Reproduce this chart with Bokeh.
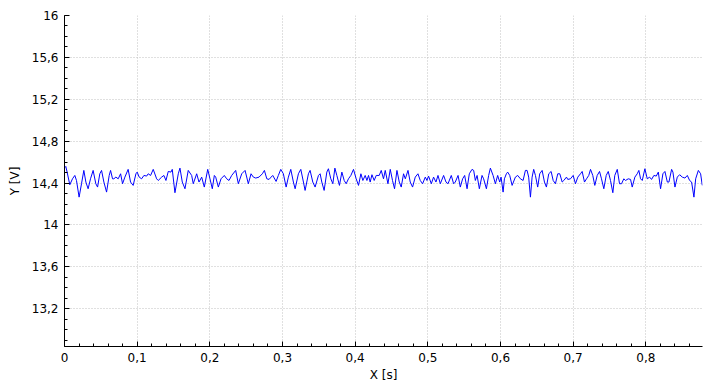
from bokeh.plotting import figure
from bokeh.models import FixedTicker, CustomJSTickFormatter, Range1d
from bokeh.embed import file_html
from bokeh.resources import INLINE

# time samples (ms) and voltage values (V)
t_ms = [0.0, 1.8, 3.6, 7.3, 11.0, 14.2, 16.5, 20.1, 23.4, 26.6, 29.4, 32.5, 35.8, 39.4, 43.1, 45.5,
        48.6, 51.0, 54.2, 57.9, 61.5, 63.4, 66.1, 67.9, 70.7, 73.9, 77.2, 79.9, 83.1, 87.6, 90.9,
        94.5, 98.3, 100.0, 102.8, 106.1, 109.3, 113.0, 115.2, 118.5, 122.1, 126.8, 129.0, 133.7,
        136.8, 139.6, 142.8,
        146.5, 148.3, 152.0, 156.6, 158.9, 162.1, 165.8, 170.3, 175.0, 177.2, 181.9, 185.1, 188.8,
        192.4, 197.1, 200.2, 203.4, 206.2, 208.1, 211.7, 215.4, 219.9, 223.2, 226.4, 230.1, 235.6,
        239.2, 243.9, 248.5, 253.0, 256.7, 259.9, 263.2, 267.7, 272.3, 275.1, 278.4, 281.5, 284.3,
        286.6, 291.2, 294.3, 297.6, 301.2, 305.0, 308.1, 311.4, 315.0, 317.4, 321.9, 325.2, 328.8,
        331.1, 335.7, 338.0, 341.7, 344.9, 349.5, 351.8, 354.1, 357.3, 361.0, 363.2, 366.5, 369.3,
        372.1, 374.8, 378.4, 381.7, 384.9, 387.6, 390.8, 394.1, 397.7, 401.4, 404.6, 407.9, 410.6,
        413.8, 416.2, 418.4, 420.7, 423.1, 426.2, 429.0,
        433.1, 435.9, 439.0, 441.4, 445.1, 448.3, 451.4, 454.2, 457.5, 460.7, 463.4, 466.6, 469.0,
        472.7, 475.8, 479.0, 482.7, 486.4, 489.6, 492.8, 496.5, 498.8, 501.0, 504.8, 507.9, 511.2,
        514.0, 517.2, 521.7, 525.0, 527.8, 532.3, 535.5, 537.8, 541.6, 544.7, 547.9, 550.7, 554.0,
        557.1, 560.8, 563.1, 565.4, 567.8, 570.9, 574.6,
        576.8, 580.6, 583.7, 586.1, 589.8, 593.0, 596.1, 598.9, 600.8, 603.6, 605.4, 608.1, 609.9,
        612.7, 616.0, 620.5, 623.7, 627.4, 631.1, 634.3, 636.6, 638.8, 641.2, 643.5, 645.7, 648.1,
        651.2, 654.0, 657.3, 660.5, 663.2, 666.4, 669.7, 672.5, 675.6, 678.8, 681.6, 684.9, 687.1,
        690.8, 692.6, 696.3, 700.0, 703.2, 706.4, 710.1, 712.4, 715.6, 718.4,
        721.5, 723.9, 727.0, 729.8, 733.1, 736.3, 739.0, 742.2, 745.5, 748.3, 751.4, 754.6, 757.3,
        760.7, 763.8, 766.6, 769.7, 772.1, 775.8, 779.0, 781.3, 784.9, 788.2, 790.4, 792.8, 795.1,
        798.7, 802.0, 805.2, 807.9, 811.1, 814.4, 817.2, 820.3, 823.5, 826.3, 829.6, 831.8, 835.5,
        837.3, 840.1, 843.3, 846.5, 850.2, 853.8, 857.1, 860.3, 863.0, 866.2, 868.6, 872.3, 875.4,
        877.7]
volts = [14.545, 14.559, 14.505, 14.384, 14.441, 14.473, 14.425, 14.266, 14.394, 14.521, 14.41,
         14.346, 14.441, 14.521, 14.394, 14.362, 14.489, 14.521, 14.41, 14.314, 14.473, 14.521,
         14.441, 14.441, 14.457, 14.441, 14.489, 14.394, 14.457, 14.531, 14.41, 14.378, 14.489,
         14.505, 14.457, 14.441, 14.473, 14.467, 14.489, 14.473, 14.531, 14.441, 14.425, 14.457,
         14.473, 14.425, 14.511,
         14.505, 14.531, 14.308, 14.489, 14.543, 14.41, 14.346, 14.521, 14.473, 14.394, 14.489,
         14.41, 14.457, 14.362, 14.531, 14.441, 14.346, 14.473, 14.457, 14.362, 14.441, 14.473,
         14.441, 14.425, 14.473, 14.521, 14.394, 14.489, 14.521, 14.394, 14.489, 14.457, 14.448,
         14.457, 14.489, 14.521, 14.441, 14.435, 14.457,
         14.473, 14.416, 14.473, 14.531, 14.489, 14.362, 14.457, 14.531, 14.41, 14.346, 14.489,
         14.531, 14.41, 14.33, 14.489, 14.521, 14.41, 14.362, 14.473, 14.489, 14.41, 14.33, 14.505,
         14.537, 14.441, 14.394, 14.543, 14.473, 14.378, 14.505, 14.425, 14.394, 14.441, 14.473,
         14.531, 14.441, 14.378, 14.489, 14.425, 14.473, 14.425, 14.473, 14.41, 14.48, 14.425,
         14.473,
         14.473, 14.521, 14.441, 14.521, 14.394, 14.531, 14.425, 14.346, 14.521, 14.41, 14.362,
         14.489, 14.441, 14.521, 14.41, 14.362, 14.457, 14.489, 14.425, 14.394, 14.457, 14.425,
         14.467, 14.394, 14.457, 14.41, 14.473, 14.394, 14.473, 14.41, 14.394, 14.473, 14.394,
         14.41, 14.473, 14.362, 14.441, 14.473, 14.346, 14.489, 14.531, 14.521, 14.425, 14.473,
         14.346, 14.473,
         14.441, 14.346, 14.473, 14.543, 14.473, 14.394, 14.473, 14.41, 14.457, 14.314, 14.441,
         14.489, 14.505, 14.473, 14.378, 14.457, 14.473, 14.441, 14.425, 14.521, 14.521, 14.457,
         14.266, 14.457, 14.531, 14.473, 14.362, 14.489, 14.521, 14.41, 14.362, 14.489, 14.511,
         14.425, 14.394, 14.489, 14.489, 14.41, 14.425, 14.457, 14.435, 14.441, 14.473, 14.394,
         14.457, 14.489, 14.511, 14.41, 14.441,
         14.473, 14.531, 14.473, 14.378, 14.473, 14.511, 14.441, 14.346, 14.473, 14.511, 14.425,
         14.308, 14.473, 14.531, 14.394, 14.394, 14.441, 14.425, 14.441, 14.435, 14.362, 14.457,
         14.489, 14.521, 14.441, 14.425, 14.537, 14.441, 14.457, 14.435, 14.473, 14.467, 14.505,
         14.346, 14.489, 14.511, 14.41, 14.41, 14.531, 14.505, 14.362, 14.457, 14.48, 14.457,
         14.448, 14.473, 14.425, 14.41, 14.266, 14.441, 14.521, 14.489, 14.378]

t_s = [v / 1000.0 for v in t_ms]

x_ticks = [0.0, 0.1, 0.2, 0.3, 0.4, 0.5, 0.6, 0.7, 0.8]
y_ticks = [13.2, 13.6, 14.0, 14.4, 14.8, 15.2, 15.6, 16.0]
x_minor = [round(0.02 * i, 2) for i in range(0, 44)]
y_minor = [round(12.9 + 0.1 * i, 1) for i in range(0, 32)]

x_min, x_max = 0.0, 0.878
y_min, y_max = 12.84, 16.0

p = figure(frame_width=638, frame_height=331,
           output_backend="svg", toolbar_location=None,
           x_range=Range1d(x_min, x_max), y_range=Range1d(y_min, y_max),
           min_border_left=64, min_border_right=7, min_border_top=15, min_border_bottom=35)
p.outline_line_color = None
p.background_fill_color = "white"
p.border_fill_color = "white"

p.line(t_s, volts, line_color="#0000ff", line_width=1)

fmt = CustomJSTickFormatter(code="""
var s = (Math.round(tick * 10) / 10).toString();
return s.replace('.', ',');
""")

p.xaxis.ticker = FixedTicker(ticks=x_ticks, minor_ticks=x_minor)
p.yaxis.ticker = FixedTicker(ticks=y_ticks, minor_ticks=y_minor)
p.xaxis.formatter = fmt
p.yaxis.formatter = fmt
p.xaxis.axis_label = "X [s]"
p.yaxis.axis_label = "Y [V]"

for ax in (p.xaxis[0], p.yaxis[0]):
    ax.major_tick_in = 5
    ax.major_tick_out = 0
    ax.minor_tick_in = 3
    ax.minor_tick_out = 0
    ax.axis_line_color = "black"
    ax.major_tick_line_color = "black"
    ax.minor_tick_line_color = "black"
    ax.major_label_text_font = "DejaVu Sans"
    ax.major_label_text_font_size = "12px"
    ax.major_label_text_color = "black"
    ax.axis_label_text_font = "DejaVu Sans"
    ax.axis_label_text_font_size = "12px"
    ax.axis_label_text_font_style = "normal"
    ax.axis_label_text_color = "black"
    ax.major_label_standoff = 6

p.xaxis.axis_label_standoff = 3
p.yaxis.axis_label_standoff = 7

for g in (p.xgrid[0], p.ygrid[0]):
    g.grid_line_color = "#c0c0c0"
    g.grid_line_dash = "1 2"
    g.grid_line_width = 1
p.xgrid.ticker = FixedTicker(ticks=x_ticks)
p.ygrid.ticker = FixedTicker(ticks=y_ticks)

open("out.html", "w").write(file_html(p, INLINE))
